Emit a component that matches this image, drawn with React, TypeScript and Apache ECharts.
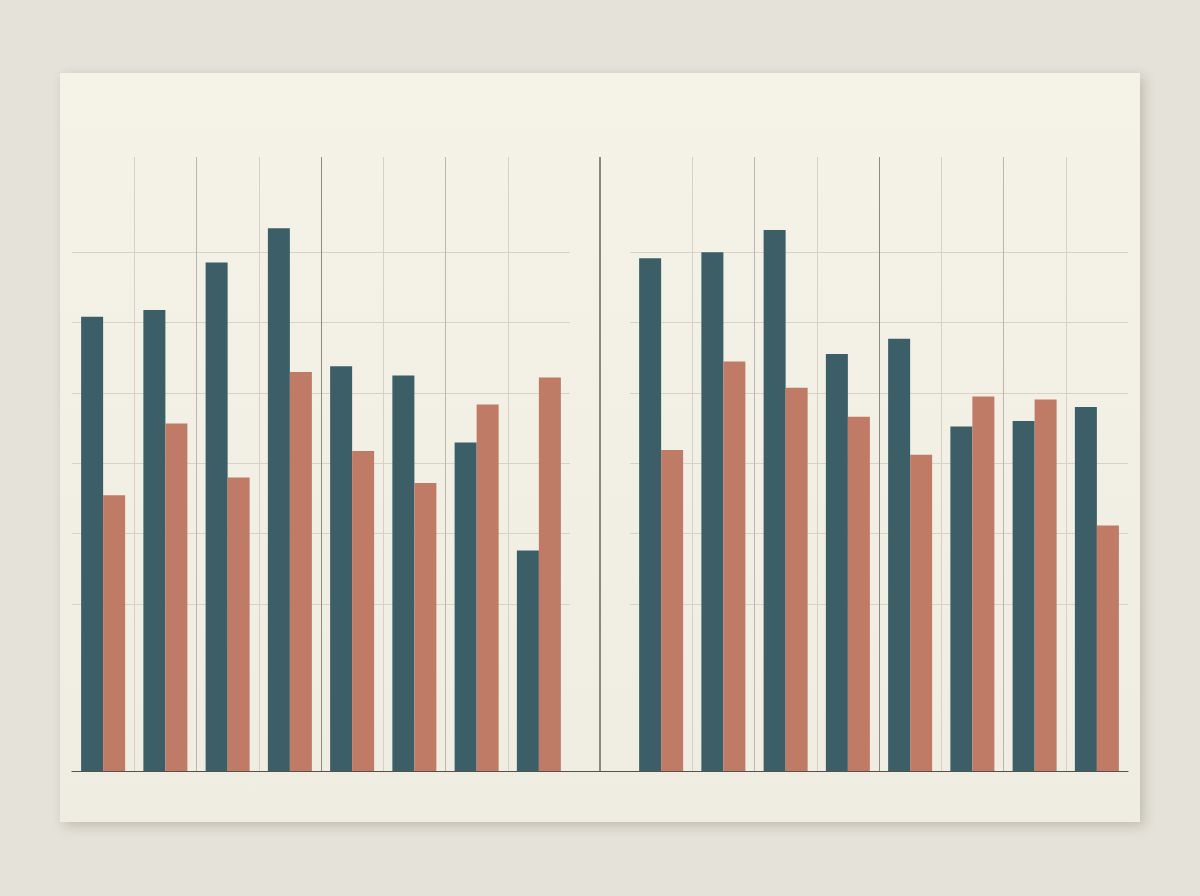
import React, { useEffect, useRef } from "react";
import * as echarts from "echarts";

// groups on each side of the divider (no labels in the picture)
const categories = ["1", "2", "3", "4", "5", "6", "7", "8"];

// left panel
const leftTeal = [74.0, 75.1, 82.8, 88.4, 65.9, 64.4, 53.5, 35.9];
const leftOrange = [44.9, 56.6, 47.8, 65.0, 52.1, 46.9, 59.7, 64.1];

// right panel
const rightTeal = [83.5, 84.5, 88.1, 67.9, 70.4, 56.1, 57.0, 59.3];
const rightOrange = [52.3, 66.7, 62.4, 57.7, 51.5, 61.0, 60.5, 40.0];

const TEAL = "#3c5f67";
const ORANGE = "#bf7b65";

const App: React.FC = () => {
  const chartRef = useRef<HTMLDivElement>(null);

  useEffect(() => {
    const chart = echarts.init(chartRef.current!, null, { renderer: "svg" });

    const vLines = ["#d6d1c4", "#bdb7aa", "#d6d1c4", "#8f8a80"];

    const barSeries = (name: string, data: number[], color: string, idx: number) => ({
      name,
      type: "bar",
      xAxisIndex: idx,
      yAxisIndex: idx,
      data,
      barWidth: 22,
      barGap: "0%",
      itemStyle: { color },
      z: 3,
    });

    chart.setOption({
      animation: false,
      backgroundColor: "#e5e2d9",
      graphic: [
        {
          type: "rect",
          shape: { x: 60, y: 73, width: 1080, height: 749 },
          style: {
            fill: new echarts.graphic.LinearGradient(0, 0, 0, 1, [
              { offset: 0, color: "#f5f2e8" },
              { offset: 1, color: "#efece2" },
            ]),
            shadowBlur: 12,
            shadowOffsetX: 4,
            shadowOffsetY: 4,
            shadowColor: "rgba(60,50,30,0.22)",
          },
          z: -10,
        },
      ],
      grid: [
        // bar panels
        { left: 72, top: 157, width: 498, height: 614 },
        { left: 630, top: 157, width: 498, height: 614 },
        // horizontal rules
        { left: 72, top: 252, width: 498, height: 352 },
        { left: 630, top: 252, width: 498, height: 352 },
        // full width: divider and baseline
        { left: 72, top: 157, width: 1056, height: 614 },
      ],
      xAxis: [0, 1].map((i) => ({
        type: "category",
        gridIndex: i,
        data: categories,
        axisLine: { show: false },
        axisTick: { show: false },
        axisLabel: { show: false },
        splitLine: {
          show: true,
          showMinLine: false,
          showMaxLine: false,
          lineStyle: { color: vLines, width: 1 },
        },
      })).concat(
        [2, 3].map((i) => ({
          type: "category",
          gridIndex: i,
          data: categories,
          show: false,
        })) as any,
        [
          {
            type: "category",
            gridIndex: 4,
            data: ["L", "R"],
            axisLine: { show: true, lineStyle: { color: "#55524b", width: 1.2 } },
            axisTick: { show: false },
            axisLabel: { show: false },
            splitLine: {
              show: true,
              showMinLine: false,
              showMaxLine: false,
              lineStyle: { color: "#8c877c", width: 2 },
            },
          },
        ] as any
      ),
      yAxis: [
        ...[0, 1].map((i) => ({
          type: "value",
          gridIndex: i,
          min: 0,
          max: 100,
          show: false,
          splitLine: { show: false },
        })),
        ...[2, 3].map((i) => ({
          type: "value",
          gridIndex: i,
          min: 0,
          max: 5,
          interval: 1,
          axisLine: { show: false },
          axisTick: { show: false },
          axisLabel: { show: false },
          splitLine: { show: true, lineStyle: { color: "#d8d3c6", width: 1 } },
        })),
        {
          type: "value",
          gridIndex: 4,
          min: 0,
          max: 1,
          show: false,
          splitLine: { show: false },
        },
      ],
      series: [
        barSeries("leftA", leftTeal, TEAL, 0),
        barSeries("leftB", leftOrange, ORANGE, 0),
        barSeries("rightA", rightTeal, TEAL, 1),
        barSeries("rightB", rightOrange, ORANGE, 1),
      ],
    });

    return () => {
      chart.dispose();
    };
  }, []);

  return (
    <div
      ref={chartRef}
      style={{ position: "fixed", left: 0, top: 0, width: 1200, height: 896 }}
    />
  );
};

export default App;
